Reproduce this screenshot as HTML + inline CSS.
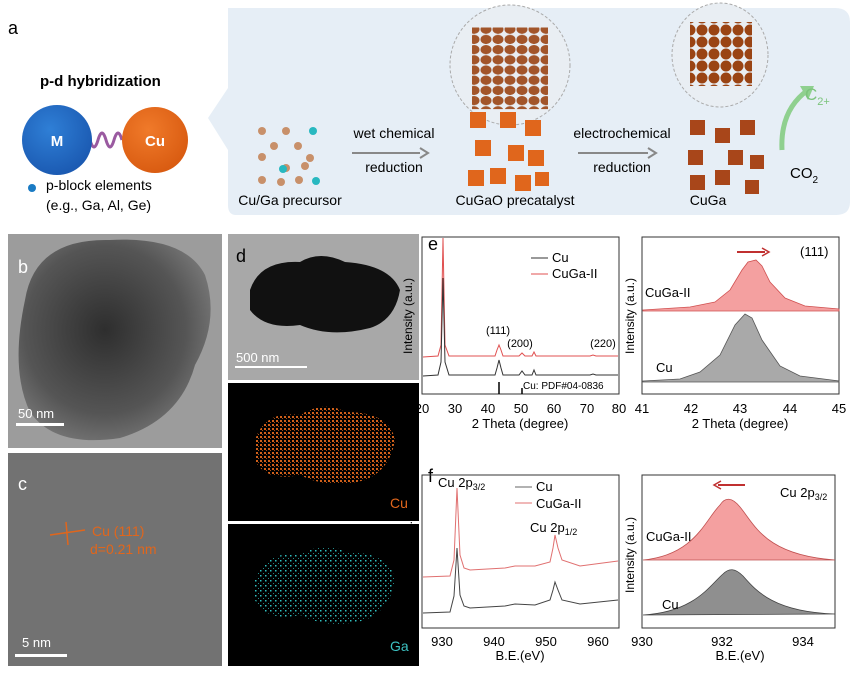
<!DOCTYPE html>
<html><head><meta charset="utf-8"><style>
body{margin:0;background:#fff}
svg text{font-family:"Liberation Sans",sans-serif}
</style></head><body>
<svg width="857" height="673" viewBox="0 0 857 673" xmlns="http://www.w3.org/2000/svg">
<defs>
<radialGradient id="gm" cx="0.4" cy="0.35" r="0.7"><stop offset="0" stop-color="#2f7fd6"/><stop offset="1" stop-color="#1a58b0"/></radialGradient>
<radialGradient id="gc" cx="0.4" cy="0.35" r="0.7"><stop offset="0" stop-color="#f07a2a"/><stop offset="1" stop-color="#d85a10"/></radialGradient>
<radialGradient id="tem" cx="0.45" cy="0.45" r="0.7"><stop offset="0" stop-color="#2e2e2e"/><stop offset="0.6" stop-color="#555"/><stop offset="1" stop-color="#8a8a8a"/></radialGradient>
<pattern id="balls" width="12" height="12" patternUnits="userSpaceOnUse"><rect width="12" height="12" fill="#e9eef3"/><circle cx="6" cy="6" r="5.5" fill="#9a4414"/></pattern>
<pattern id="dotsO" width="4" height="4" patternUnits="userSpaceOnUse"><rect width="4" height="4" fill="#000"/><rect width="2" height="2" fill="#d0601a"/><rect x="2" y="2" width="1" height="1" fill="#a84a12"/></pattern>
<pattern id="dotsG" width="5" height="5" patternUnits="userSpaceOnUse"><rect width="5" height="5" fill="#000"/><rect width="1.5" height="1.5" fill="#30c0c0"/><rect x="3" y="3" width="1" height="1" fill="#208888"/></pattern>
</defs>
<!-- panel a -->
<path d="M228,8 L835,8 Q850,8 850,22 L850,202 Q850,215 836,215 L236,215 Q228,215 228,205 L228,150 L208,118 L228,88 Z" fill="#e6eef6"/>
<text x="8" y="34" font-size="18">a</text>
<text x="40" y="86" font-size="15" font-weight="bold">p-d hybridization</text>
<path d="M82,140 q4,-14 8,0 q4,14 8,0 q4,-14 8,0 q4,14 8,0 q4,-14 8,0" stroke="#9a5aa0" stroke-width="3" fill="none"/>
<circle cx="57" cy="140" r="35" fill="url(#gm)"/>
<circle cx="155" cy="140" r="33" fill="url(#gc)"/>
<text x="57" y="146" font-size="15" font-weight="bold" fill="#fff" text-anchor="middle">M</text>
<text x="155" y="146" font-size="15" font-weight="bold" fill="#fff" text-anchor="middle">Cu</text>
<circle cx="32" cy="188" r="4" fill="#1a7bc4"/>
<text x="46" y="190" font-size="14">p-block elements</text>
<text x="46" y="210" font-size="14">(e.g., Ga, Al, Ge)</text>
<g fill="#c8906a">
<circle cx="262" cy="131" r="4"/><circle cx="286" cy="131" r="4"/><circle cx="262" cy="157" r="4"/><circle cx="274" cy="146" r="4"/><circle cx="298" cy="146" r="4"/><circle cx="310" cy="158" r="4"/><circle cx="286" cy="168" r="4"/><circle cx="262" cy="180" r="4"/><circle cx="281" cy="182" r="4"/><circle cx="299" cy="180" r="4"/><circle cx="305" cy="166" r="4"/></g>
<g fill="#28b8c0"><circle cx="313" cy="131" r="4"/><circle cx="283" cy="169" r="4"/><circle cx="316" cy="181" r="4"/></g>
<text x="394" y="138" font-size="14" text-anchor="middle">wet chemical</text>
<text x="394" y="172" font-size="14" text-anchor="middle">reduction</text>
<path d="M352,153 L420,153" stroke="#888" stroke-width="2"/><path d="M420,148 L428,153 L420,158" stroke="#888" stroke-width="2" fill="none"/>
<text x="290" y="205" font-size="14" text-anchor="middle">Cu/Ga precursor</text>
<text x="515" y="205" font-size="14" text-anchor="middle">CuGaO precatalyst</text>
<text x="708" y="205" font-size="14" text-anchor="middle">CuGa</text>
<text x="622" y="138" font-size="14" text-anchor="middle">electrochemical</text>
<text x="622" y="172" font-size="14" text-anchor="middle">reduction</text>
<path d="M578,153 L648,153" stroke="#888" stroke-width="2"/><path d="M648,148 L656,153 L648,158" stroke="#888" stroke-width="2" fill="none"/>
<ellipse cx="510" cy="65" rx="60" ry="60" fill="#e9eef3" stroke="#aaa" stroke-dasharray="3,2"/>
<rect x="472" y="40" width="76" height="96" rx="0" fill="url(#balls)" opacity="0.9" transform="translate(0,-15) scale(1,0.85) translate(0,10)"/>
<ellipse cx="720" cy="55" rx="48" ry="52" fill="#e9eef3" stroke="#aaa" stroke-dasharray="3,2"/>
<rect x="690" y="22" width="62" height="64" fill="url(#balls)"/>
<g fill="#e0661c">
<rect x="470" y="112" width="16" height="16"/><rect x="500" y="112" width="16" height="16"/><rect x="525" y="120" width="16" height="16"/>
<rect x="475" y="140" width="16" height="16"/><rect x="508" y="145" width="16" height="16"/><rect x="528" y="150" width="16" height="16"/>
<rect x="468" y="170" width="16" height="16"/><rect x="490" y="168" width="16" height="16"/><rect x="515" y="175" width="16" height="16"/><rect x="535" y="172" width="14" height="14"/></g>
<g fill="#a8461a">
<rect x="690" y="120" width="15" height="15"/><rect x="715" y="128" width="15" height="15"/><rect x="740" y="120" width="15" height="15"/>
<rect x="688" y="150" width="15" height="15"/><rect x="728" y="150" width="15" height="15"/><rect x="750" y="155" width="14" height="14"/>
<rect x="690" y="175" width="15" height="15"/><rect x="715" y="170" width="15" height="15"/><rect x="745" y="180" width="14" height="14"/></g>
<path d="M782,150 Q780,110 808,90" stroke="#8fd08f" stroke-width="5" fill="none"/><path d="M800,86 L814,86 L808,100 Z" fill="#8fd08f"/>
<text x="805" y="100" font-size="17" fill="#7cc47c">C<tspan font-size="11" dy="5">2+</tspan></text>
<text x="790" y="178" font-size="15">CO<tspan font-size="10" dy="5">2</tspan></text>
<!-- b -->
<rect x="8" y="234" width="214" height="214" fill="#9c9c9c"/>
<path d="M25,300 Q35,238 110,240 Q185,236 205,275 Q220,320 195,365 Q180,420 120,438 Q55,448 30,412 Q10,370 25,300Z" fill="url(#tem)"/>
<text x="18" y="273" font-size="18" fill="#fff">b</text>
<rect x="16" y="423" width="48" height="3" fill="#fff"/><text x="18" y="418" font-size="13" fill="#fff">50 nm</text>
<!-- c -->
<rect x="8" y="453" width="214" height="213" fill="#727272"/>
<text x="18" y="490" font-size="18" fill="#fff">c</text>
<path d="M50,535 L85,530 M66,522 L68,545" stroke="#e0661c" stroke-width="1.5"/>
<text x="92" y="536" font-size="14" fill="#e0661c">Cu (111)</text>
<text x="90" y="554" font-size="14" fill="#e0661c">d=0.21 nm</text>
<rect x="15" y="654" width="52" height="3" fill="#fff"/><text x="22" y="647" font-size="13" fill="#fff">5 nm</text>
<!-- d -->
<rect x="228" y="234" width="191" height="146" fill="#a8a8a8"/>
<path d="M250,290 Q260,260 300,262 Q320,250 345,262 Q390,265 400,290 Q395,320 370,328 Q330,338 300,325 Q265,330 250,310Z" fill="#111"/>
<text x="236" y="262" font-size="18" fill="#000">d</text>
<rect x="235" y="366" width="72" height="2" fill="#fff"/><text x="236" y="362" font-size="13" fill="#fff">500 nm</text>
<rect x="228" y="383" width="191" height="138" fill="#000"/>
<path d="M255,440 Q265,410 300,415 Q325,400 345,412 Q390,412 395,440 Q390,470 365,480 Q330,490 300,475 Q265,482 255,460Z" fill="url(#dotsO)"/>
<text x="390" y="508" font-size="14" fill="#e0661c">Cu</text>
<rect x="228" y="524" width="191" height="142" fill="#000"/>
<path d="M255,580 Q265,550 300,555 Q325,540 345,552 Q390,552 395,580 Q390,610 365,620 Q330,630 300,615 Q265,622 255,600Z" fill="url(#dotsG)"/>
<text x="390" y="651" font-size="14" fill="#3cc0c0">Ga</text>
<!-- e -->
<text x="428" y="250" font-size="18">e</text>
<rect x="422" y="237" width="197" height="157" fill="none" stroke="#333"/>
<g font-size="13" text-anchor="middle"><text x="422" y="413">20</text><text x="455" y="413">30</text><text x="488" y="413">40</text><text x="521" y="413">50</text><text x="554" y="413">60</text><text x="587" y="413">70</text><text x="619" y="413">80</text></g>
<text x="520" y="428" font-size="13" text-anchor="middle">2 Theta (degree)</text>
<text transform="translate(412,316) rotate(-90)" font-size="12" text-anchor="middle">Intensity (a.u.)</text>
<path d="M423,357 L438,356 L441,345 L443,238 L445,345 L449,356 L495,356 L497,350 L499,345 L501,350 L503,356 L519,356 L522,353 L525,356 L532,356 L534,352 L536,356 L590,356 L593,355 L596,356 L618,356" stroke="#e05050" fill="none"/>
<path d="M423,376 L438,375 L441,362 L443,278 L445,362 L449,375 L495,375 L497,368 L499,360 L501,368 L503,375 L519,375 L522,371 L525,375 L532,375 L534,370 L536,375 L590,375 L593,374 L596,375 L618,375" stroke="#333" fill="none"/>
<path d="M499,382 V394 M522,388 V394" stroke="#000" stroke-width="1.5"/>
<text x="523" y="389" font-size="10">Cu: PDF#04-0836</text>
<g font-size="11"><text x="498" y="334" text-anchor="middle">(111)</text><text x="520" y="347" text-anchor="middle">(200)</text><text x="603" y="347" text-anchor="middle">(220)</text></g>
<path d="M531,258 H548" stroke="#333"/><text x="552" y="262" font-size="13">Cu</text>
<path d="M531,274 H548" stroke="#e05050"/><text x="552" y="278" font-size="13">CuGa-II</text>
<rect x="642" y="237" width="197" height="157" fill="none" stroke="#333"/>
<g font-size="13" text-anchor="middle"><text x="642" y="413">41</text><text x="691" y="413">42</text><text x="740" y="413">43</text><text x="790" y="413">44</text><text x="839" y="413">45</text></g>
<text x="740" y="428" font-size="13" text-anchor="middle">2 Theta (degree)</text>
<text transform="translate(634,316) rotate(-90)" font-size="12" text-anchor="middle">Intensity (a.u.)</text>
<path d="M643,310 L690,307 L715,302 L730,290 L742,270 L748,262 L756,260 L762,266 L770,282 L785,298 L805,306 L839,309 L839,311 L643,311Z" fill="#f4a0a0" stroke="#d05050" stroke-width="0.8"/>
<path d="M643,381 L680,379 L700,372 L720,355 L735,325 L745,314 L752,318 L762,340 L780,366 L800,376 L839,381 L839,382 L643,382Z" fill="#a9a9a9" stroke="#555" stroke-width="0.8"/>
<text x="645" y="297" font-size="13">CuGa-II</text><text x="656" y="372" font-size="13">Cu</text>
<text x="800" y="256" font-size="13">(111)</text>
<path d="M737,252 H765" stroke="#c03030" stroke-width="2"/><path d="M762,248 L769,252 L762,256" fill="none" stroke="#c03030" stroke-width="1.5"/>
<!-- f -->
<text x="428" y="482" font-size="18">f</text>
<rect x="422" y="475" width="197" height="153" fill="none" stroke="#333"/>
<g font-size="13" text-anchor="middle"><text x="442" y="646">930</text><text x="494" y="646">940</text><text x="546" y="646">950</text><text x="598" y="646">960</text></g>
<text x="520" y="660" font-size="13" text-anchor="middle">B.E.(eV)</text>
<text transform="translate(412,555) rotate(-90)" font-size="12" text-anchor="middle">Intensity (a.u.)</text>
<path d="M423,577 L450,576 L454,560 L457,488 L460,555 L464,568 L470,570 L505,568 L515,566 L535,566 L550,562 L553,548 L555,535 L558,548 L562,560 L580,566 L618,561" stroke="#e07070" fill="none"/>
<path d="M423,613 L450,612 L454,596 L457,548 L460,595 L464,606 L470,608 L505,606 L515,604 L535,605 L550,600 L553,590 L555,582 L558,590 L562,600 L580,604 L618,600" stroke="#444" fill="none"/>
<text x="438" y="487" font-size="13">Cu 2p<tspan font-size="9" dy="3">3/2</tspan></text>
<text x="530" y="532" font-size="13">Cu 2p<tspan font-size="9" dy="3">1/2</tspan></text>
<path d="M515,487 H532" stroke="#666"/><text x="536" y="491" font-size="13">Cu</text>
<path d="M515,503 H532" stroke="#e07070"/><text x="536" y="508" font-size="13">CuGa-II</text>
<rect x="642" y="475" width="193" height="153" fill="none" stroke="#333"/>
<g font-size="13" text-anchor="middle"><text x="642" y="646">930</text><text x="722" y="646">932</text><text x="803" y="646">934</text></g>
<text x="740" y="660" font-size="13" text-anchor="middle">B.E.(eV)</text>
<text transform="translate(634,555) rotate(-90)" font-size="12" text-anchor="middle">Intensity (a.u.)</text>
<path d="M643,560 C695,555 705,520 720,505 C725,497 732,497 740,507 C755,525 765,555 835,560 Z" fill="#f4a0a0" stroke="#c05050" stroke-width="0.8"/>
<path d="M643,615 C695,612 710,585 723,574 C729,568 735,568 743,576 C757,592 775,612 835,614 Z" fill="#8f8f8f" stroke="#444" stroke-width="0.8"/>
<text x="646" y="541" font-size="13">CuGa-II</text><text x="662" y="609" font-size="13">Cu</text>
<text x="780" y="497" font-size="13">Cu 2p<tspan font-size="9" dy="3">3/2</tspan></text>
<path d="M718,485 H745" stroke="#c03030" stroke-width="2"/><path d="M721,481 L714,485 L721,489" fill="none" stroke="#c03030" stroke-width="1.5"/>
</svg>
</body></html>
